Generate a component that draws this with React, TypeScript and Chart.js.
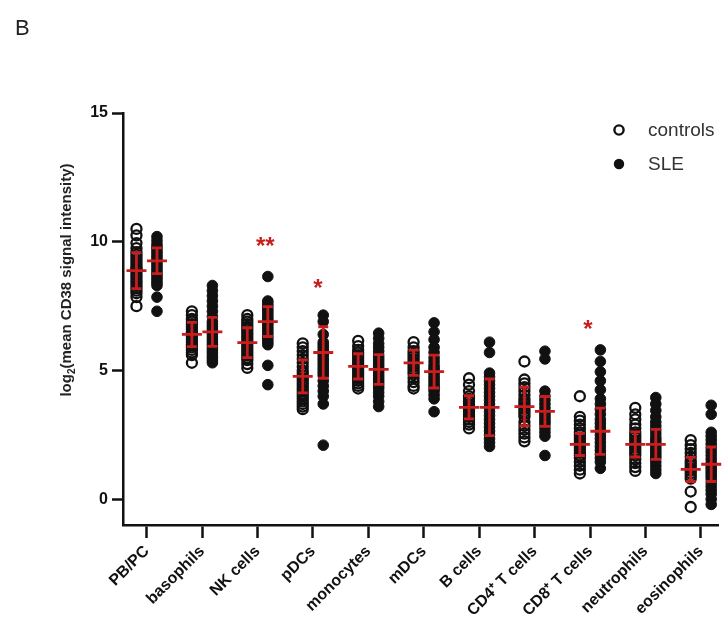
import React, { useEffect, useRef } from "react";
import { Chart, registerables } from "chart.js";

Chart.register(...registerables);

// ---------- data ----------
const categories = [
  "PB/PC",
  "basophils",
  "NK cells",
  "pDCs",
  "monocytes",
  "mDCs",
  "B cells",
  "CD4\u207A T cells",
  "CD8\u207A T cells",
  "neutrophils",
  "eosinophils",
];

const yTickValues = [0, 5, 10, 15];

const controlsValues: number[][] = [
  [10.5, 10.25, 9.95, 9.75, 9.6, 9.5, 9.4, 9.3, 9.2, 9.1, 9.0, 8.95, 8.9, 8.8, 8.7, 8.6, 8.5, 8.4, 8.3, 8.2, 8.1, 8.0, 7.85, 7.5],
  [7.3, 7.15, 7.0, 6.9, 6.8, 6.7, 6.6, 6.5, 6.45, 6.4, 6.3, 6.2, 6.1, 6.0, 5.9, 5.8, 5.7, 5.6, 5.3],
  [7.15, 7.0, 6.9, 6.8, 6.7, 6.6, 6.5, 6.4, 6.3, 6.2, 6.1, 6.0, 5.9, 5.8, 5.7, 5.6, 5.5, 5.4, 5.25, 5.1],
  [6.05, 5.9, 5.75, 5.6, 5.45, 5.3, 5.15, 5.0, 4.9, 4.8, 4.7, 4.6, 4.5, 4.4, 4.3, 4.2, 4.1, 4.0, 3.9, 3.8, 3.7, 3.6, 3.5],
  [6.15, 5.95, 5.8, 5.7, 5.6, 5.5, 5.4, 5.3, 5.2, 5.1, 5.0, 4.9, 4.8, 4.7, 4.6, 4.5, 4.4, 4.3],
  [6.1, 5.9, 5.75, 5.65, 5.55, 5.45, 5.35, 5.25, 5.15, 5.05, 4.95, 4.85, 4.7, 4.55, 4.4, 4.3],
  [4.7, 4.45, 4.2, 4.0, 3.9, 3.8, 3.7, 3.6, 3.5, 3.4, 3.3, 3.2, 3.1, 3.0, 2.9, 2.75],
  [5.35, 4.65, 4.5, 4.35, 4.2, 4.05, 3.9, 3.8, 3.7, 3.6, 3.5, 3.4, 3.3, 3.2, 3.0, 2.85, 2.7, 2.55, 2.4, 2.25],
  [4.0, 3.2, 3.05, 2.9, 2.75, 2.6, 2.5, 2.4, 2.3, 2.2, 2.1, 2.0, 1.9, 1.8, 1.7, 1.6, 1.45, 1.3, 1.15, 1.0],
  [3.55, 3.3, 3.1, 2.9, 2.75, 2.6, 2.5, 2.4, 2.3, 2.2, 2.1, 2.0, 1.9, 1.8, 1.7, 1.55, 1.4, 1.25, 1.1],
  [2.3, 2.1, 1.95, 1.8, 1.65, 1.5, 1.4, 1.3, 1.2, 1.1, 1.0, 0.9, 0.8, 0.3, -0.3],
];

const sleValues: number[][] = [
  [10.2, 10.05, 9.9, 9.8, 9.7, 9.6, 9.5, 9.4, 9.3, 9.2, 9.1, 9.0, 8.9, 8.8, 8.7, 8.6, 8.5, 8.4, 8.3, 7.85, 7.3],
  [8.3, 8.1, 7.9, 7.7, 7.5, 7.3, 7.1, 6.9, 6.8, 6.7, 6.6, 6.5, 6.4, 6.3, 6.2, 6.1, 6.0, 5.9, 5.8, 5.7, 5.6, 5.5, 5.4, 5.3],
  [8.65, 7.7, 7.6, 7.5, 7.4, 7.3, 7.2, 7.1, 7.0, 6.9, 6.8, 6.7, 6.6, 6.5, 6.4, 6.3, 6.2, 6.1, 6.0, 5.2, 4.45],
  [7.15, 6.9, 6.4, 6.1, 6.0, 5.9, 5.8, 5.7, 5.6, 5.5, 5.4, 5.3, 5.2, 5.1, 5.0, 4.9, 4.8, 4.6, 4.4, 4.2, 4.0, 3.7, 2.1],
  [6.45, 6.25, 6.05, 5.9, 5.75, 5.6, 5.5, 5.4, 5.3, 5.2, 5.1, 5.0, 4.9, 4.8, 4.7, 4.6, 4.5, 4.4, 4.3, 4.15, 4.0, 3.8, 3.6],
  [6.85, 6.5, 6.2, 5.9, 5.7, 5.5, 5.35, 5.2, 5.1, 5.0, 4.9, 4.8, 4.7, 4.6, 4.5, 4.4, 4.3, 4.2, 4.05, 3.9, 3.4],
  [6.1, 5.7, 4.9, 4.75, 4.6, 4.45, 4.3, 4.15, 4.0, 3.85, 3.7, 3.55, 3.4, 3.25, 3.1, 2.95, 2.8, 2.65, 2.5, 2.35, 2.2, 2.05],
  [5.75, 5.45, 4.2, 4.0, 3.85, 3.7, 3.55, 3.4, 3.3, 3.2, 3.1, 3.0, 2.9, 2.75, 2.6, 2.45, 1.7],
  [5.8, 5.35, 4.95, 4.6, 4.25, 3.9, 3.7, 3.5, 3.3, 3.1, 2.95, 2.8, 2.65, 2.5, 2.35, 2.2, 2.05, 1.9, 1.75, 1.6, 1.45, 1.2],
  [3.95, 3.7, 3.45, 3.2, 3.0, 2.85, 2.7, 2.55, 2.4, 2.3, 2.2, 2.1, 2.0, 1.9, 1.8, 1.7, 1.6, 1.45, 1.3, 1.15, 1.0],
  [3.65, 3.3, 2.6, 2.45, 2.3, 2.15, 2.0, 1.85, 1.7, 1.55, 1.4, 1.3, 1.2, 1.1, 1.0, 0.9, 0.8, 0.65, 0.5, 0.35, 0.2, 0.0, -0.2],
];

const controlsMean = [8.88, 6.4, 6.08, 4.77, 5.16, 5.3, 3.57, 3.6, 2.13, 2.13, 1.16];
const controlsSD = [0.7, 0.47, 0.58, 0.64, 0.49, 0.49, 0.45, 0.75, 0.43, 0.49, 0.47];
const sleMean = [9.26, 6.5, 6.9, 5.7, 5.04, 4.96, 3.57, 3.41, 2.64, 2.13, 1.36];
const sleSD = [0.5, 0.56, 0.58, 1.0, 0.58, 0.64, 1.1, 0.58, 0.9, 0.58, 0.67];

const sigLabels = ["**", "*", "*"];
const sigX = [2.14, 3.09, 7.96];
const sigY = [10.08, 8.45, 6.86];

const seriesNames = ["controls", "SLE"];
const yTitleParts = ["log", "2", "(mean CD38 signal intensity)"];
const panelLabel = "B";

// ---------- styling ----------
const GROUP_OFFSET = 0.185;
const RED = "#c81e1e";
const INK = "#111111";
const FONT = "'Liberation Sans', Arial, Helvetica, sans-serif";

const overlayPlugin = {
  id: "overlay",
  afterDatasetsDraw(chart: any) {
    const { ctx, scales } = chart;
    const x = scales.x;
    const y = scales.y;
    ctx.save();
    ctx.strokeStyle = RED;
    ctx.lineWidth = 2.8;
    ctx.lineCap = "butt";
    const drawMean = (cx: number, m: number, sd: number) => {
      const px = x.getPixelForValue(cx);
      const pm = y.getPixelForValue(m);
      const pt = y.getPixelForValue(m + sd);
      const pb = y.getPixelForValue(m - sd);
      ctx.beginPath();
      ctx.moveTo(px - 10, pm);
      ctx.lineTo(px + 10, pm);
      ctx.moveTo(px, pt);
      ctx.lineTo(px, pb);
      ctx.moveTo(px - 5, pt);
      ctx.lineTo(px + 5, pt);
      ctx.moveTo(px - 5, pb);
      ctx.lineTo(px + 5, pb);
      ctx.stroke();
    };
    categories.forEach((_, i) => {
      drawMean(i - GROUP_OFFSET, controlsMean[i], controlsSD[i]);
      drawMean(i + GROUP_OFFSET, sleMean[i], sleSD[i]);
    });
    // significance asterisks
    ctx.fillStyle = RED;
    const fs = 24;
    ctx.font = `bold ${fs}px ${FONT}`;
    ctx.textAlign = "center";
    ctx.textBaseline = "alphabetic";
    sigLabels.forEach((lab, i) => {
      const px = x.getPixelForValue(sigX[i]);
      const py = y.getPixelForValue(sigY[i]);
      ctx.fillText(lab, px, py + fs * 0.58);
    });
    ctx.restore();
  },
  afterDraw(chart: any) {
    const { ctx } = chart;
    ctx.save();
    // panel label
    ctx.fillStyle = "#222";
    ctx.font = `22px ${FONT}`;
    ctx.textAlign = "left";
    ctx.textBaseline = "alphabetic";
    ctx.fillText(panelLabel, 15, 35);

    // y-axis title with subscript
    ctx.translate(71, 280);
    ctx.rotate(-Math.PI / 2);
    const main = `bold 15px ${FONT}`;
    const sub = `bold 10px ${FONT}`;
    ctx.font = main;
    const w1 = ctx.measureText(yTitleParts[0]).width;
    const w3 = ctx.measureText(yTitleParts[2]).width;
    ctx.font = sub;
    const w2 = ctx.measureText(yTitleParts[1]).width;
    const total = w1 + w2 + w3;
    let cx = -total / 2;
    ctx.fillStyle = "#222";
    ctx.textAlign = "left";
    ctx.font = main;
    ctx.fillText(yTitleParts[0], cx, 0);
    cx += w1;
    ctx.font = sub;
    ctx.fillText(yTitleParts[1], cx, 4);
    cx += w2;
    ctx.font = main;
    ctx.fillText(yTitleParts[2], cx, 0);
    ctx.setTransform(1, 0, 0, 1, 0, 0);

    // legend
    const items = [
      { y: 130, filled: false },
      { y: 164, filled: true },
    ];
    items.forEach((it, i) => {
      ctx.beginPath();
      ctx.arc(619, it.y, it.filled ? 5.2 : 4.6, 0, Math.PI * 2);
      if (it.filled) {
        ctx.fillStyle = INK;
        ctx.fill();
      } else {
        ctx.lineWidth = 2.4;
        ctx.strokeStyle = INK;
        ctx.stroke();
      }
      ctx.fillStyle = "#333";
      ctx.font = `19px ${FONT}`;
      ctx.textBaseline = "middle";
      ctx.fillText(seriesNames[i], 648, it.y + 1);
    });
    ctx.restore();
  },
};

export default function App() {
  const canvasRef = useRef<HTMLCanvasElement | null>(null);

  useEffect(() => {
    if (!canvasRef.current) return;
    const controlsData: { x: number; y: number }[] = [];
    const sleData: { x: number; y: number }[] = [];
    categories.forEach((_, i) => {
      controlsValues[i].forEach((v) => controlsData.push({ x: i - GROUP_OFFSET, y: v }));
      sleValues[i].forEach((v) => sleData.push({ x: i + GROUP_OFFSET, y: v }));
    });

    const tickFont = { family: FONT, size: 16, weight: "bold" as const };

    const chart = new Chart(canvasRef.current, {
      type: "scatter",
      data: {
        datasets: [
          {
            label: seriesNames[0],
            data: controlsData,
            pointStyle: "circle",
            pointRadius: 5,
            pointBorderWidth: 2.3,
            pointBorderColor: INK,
            pointBackgroundColor: "rgba(255,255,255,0)",
            showLine: false,
          },
          {
            label: seriesNames[1],
            data: sleData,
            pointStyle: "circle",
            pointRadius: 5.3,
            pointBorderWidth: 1,
            pointBorderColor: INK,
            pointBackgroundColor: INK,
            showLine: false,
          },
        ],
      },
      options: {
        responsive: false,
        animation: false,
        layout: { padding: { top: 113, right: 0, left: 0, bottom: 0 } },
        plugins: {
          legend: { display: false },
          tooltip: { enabled: false },
        },
        scales: {
          x: {
            type: "linear",
            min: -0.428,
            max: 10.32,
            afterBuildTicks: (s: any) => {
              s.ticks = categories.map((_, i) => ({ value: i }));
            },
            afterFit: (s: any) => {
              s.height = 112;
              s.paddingLeft = 0;
              s.paddingRight = 0;
            },
            ticks: {
              autoSkip: false,
              maxRotation: 45,
              minRotation: 45,
              padding: 4,
              color: INK,
              font: tickFont,
              callback: (v: any) => categories[Math.round(Number(v))] ?? "",
            },
            grid: {
              drawOnChartArea: false,
              drawTicks: true,
              tickLength: 13,
              tickWidth: 2.5,
              tickColor: INK,
            },
            border: { display: true, color: INK, width: 2.5 },
          },
          y: {
            min: -1,
            max: 15,
            afterBuildTicks: (s: any) => {
              s.ticks = yTickValues.map((v) => ({ value: v }));
            },
            afterFit: (s: any) => {
              s.width = 123;
              s.paddingTop = 0;
              s.paddingBottom = 0;
            },
            ticks: {
              padding: 4,
              color: INK,
              font: tickFont,
            },
            grid: {
              drawOnChartArea: false,
              drawTicks: true,
              tickLength: 11,
              tickWidth: 2.5,
              tickColor: INK,
            },
            border: { display: true, color: INK, width: 2.5 },
          },
        },
      },
      plugins: [overlayPlugin],
    } as any);

    return () => chart.destroy();
  }, []);

  return (
    <div style={{ position: "absolute", left: 0, top: 0, width: 726, height: 637, background: "#fff" }}>
      <canvas ref={canvasRef} width={726} height={637} style={{ display: "block" }} />
    </div>
  );
}
